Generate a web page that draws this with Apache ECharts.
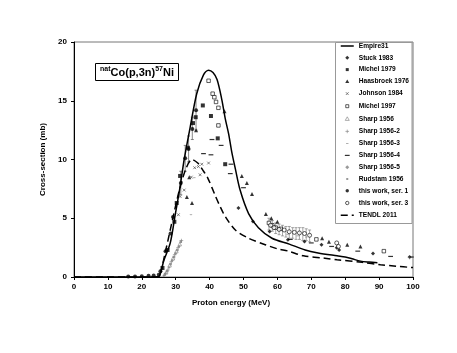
<!DOCTYPE html>
<html>
<head>
<meta charset="utf-8">
<script src="https://cdn.jsdelivr.net/npm/echarts@6/dist/echarts.min.js"></script>
<style>
  html, body { margin: 0; padding: 0; background: #fff; }
  #main { width: 457px; height: 353px; }
</style>
</head>
<body>
<div id="main"></div>
<script>
// axis ticks
var xTicks = [0, 10, 20, 30, 40, 50, 60, 70, 80, 90, 100];
var yTicks = [0, 5, 10, 15, 20];

// model curves (x, y pairs)
var empire31 = [[0,0],[24,0],[25.2,0.1],[26.5,1.4],[28.4,2.9],[29.8,5.2],[31.3,7.7],[32.5,10],[34.3,12.8],[36.2,15.6],[38.2,17.2],[39.7,17.6],[41,17.4],[42.2,16.8],[43.6,15.1],[44.6,13.5],[45.6,12.2],[46.5,10.7],[47.6,9.2],[49,7.4],[51.5,5.4],[54.4,4.2],[58.4,3.3],[63.5,2.8],[68.2,2.3],[72,2.05],[77.6,1.8],[80,1.7],[82,1.55],[84.5,1.35],[87,1.27],[89.5,1.22]];
var tendl2011 = [[0,0],[24,0],[25.2,0.1],[27,2.2],[29,4.8],[31,7.3],[33,9.2],[34.8,10],[36.5,9.7],[38,9.1],[39.5,8.4],[41.7,6.9],[43.1,6.0],[44.6,5.15],[47.6,4.0],[51.5,3.3],[56.4,2.75],[60,2.4],[63.3,2.2],[67.7,1.8],[74,1.6],[77.6,1.47],[85,1.25],[90.4,1.05],[95,0.92],[100,0.8]];

// experimental data
var stuck1983 = [[48.5,5.87],[52.8,4.73],[57.7,3.88],[63.1,3.17],[68,3.03],[73,2.75],[77.5,2.5],[78.2,2.3],[88.2,2.0],[99,1.7]];
var michel1979 = [[26.1,0.77],[27.6,2.3],[29.6,4.7],[30.3,6.3],[31.3,8.6],[33.6,11],[35.1,13.1],[35.9,13.6],[38,14.6],[40.4,13.7],[42.4,11.8],[44.6,9.6]];
var haasbroek1976 = [[33.3,6.8],[34,8.5],[34.8,6.3],[36,12.5],[44.4,14.1],[49.5,8.6],[51,8.0],[52.5,7.06],[56.6,5.36],[58.2,5.0],[60,4.7],[73.2,3.3],[75.2,3.0],[80.6,2.75],[84.5,2.6]];
var johnson1984 = [[30.8,5.3],[31.3,6.85],[32.5,7.4],[34.6,8.5],[35.6,9.3],[36.7,9.4],[37.2,8.7],[37.7,9.6],[39.7,9.7]];
var michel1997 = [[39.7,16.7],[40.9,15.6],[41.4,15.3],[41.9,14.9],[42.6,14.4],[42.6,12.9],[57.5,4.6],[58.5,4.4],[59.5,4.2],[61,4.1],[71.5,3.2],[91.4,2.2]];
var sharp1956 = [[27.2,0.4],[28.2,1.0],[29.2,1.6],[30.2,2.2],[31.2,2.8]];
var sharp1956_2 = [[27.7,0.6],[28.7,1.3],[29.7,1.9],[30.7,2.5],[31.7,3.1],[99,1.65]];
var sharp1956_3 = [[35.5,8.45],[34.5,5.3],[63,3.6],[66,3.5],[68.5,3.4]];
var sharp1956_4 = [[38.2,10.5],[40.4,10.4],[40.7,11.7],[43.4,11.2],[46.3,9.6],[46.1,8.8],[50,7.6],[63.8,3.2],[70,2.9],[76,2.6],[83.7,2.2],[93.4,1.75],[99.5,1.7]];
var sharp1956_5 = [[26.5,0.1],[27,0.3],[28,0.8],[29,1.4],[30,2.0],[31,2.6]];
var rudstam1956 = [[26.8,0.2],[27.5,0.5],[28.5,1.1],[29.5,1.7],[30.5,2.3],[31.5,3.0]];
var thisWork1 = [[16,0.05],[18,0.05],[20,0.07],[22,0.1],[23.5,0.12],[25,0.2],[25.5,0.5],[27,2.2],[28.5,3.7],[29.2,5.1],[31.5,8.0],[32.8,10.1],[33.8,10.9],[34.9,12.6],[36,14.2]];
var thisWork3 = [[58,4.4],[59,4.2],[60.5,4.05],[62,4.0],[63.5,3.85],[65,3.8],[66.5,3.75],[68,3.7],[69.5,3.55],[77.5,2.9],[78,2.6]];
// error bars [x, low, high]
var errRise = [[31.5,7,9],[32.8,9,11.2],[33.8,9.8,12],[34.9,11.7,13.6],[36,12.5,15.9]];
var errGroup = [[57.5,4.0,5.0],[58.5,3.9,4.8],[59.5,3.7,4.6],[60.5,3.6,4.5],[61.5,3.5,4.4],[62.5,3.4,4.3],[63.5,3.3,4.3],[64.5,3.3,4.2],[65.5,3.2,4.2],[66.5,3.2,4.2],[67.5,3.1,4.2],[68.5,3.1,4.1],[69.5,3.0,4.0]];

var FONT = 'Liberation Sans';
var GRAY = '#808080';

// small icons in a 12x8 box for the legend
var box = 'M0,0M12,8';
var icons = {
  diamond: 'path://' + box + 'M6,2L8,4L6,6L4,4Z',
  square: 'path://' + box + 'M4.5,2.5h3v3h-3Z',
  smallsq: 'path://' + box + 'M5,3h2v2h-2Z',
  triangle: 'path://' + box + 'M6,2L8,5.6L4,5.6Z',
  cross: 'path://' + box + 'M4.6,2.6L7.4,5.4M7.4,2.6L4.6,5.4',
  plus: 'path://' + box + 'M6,2.2V5.8M4.2,4H7.8',
  shortdash: 'path://' + box + 'M4.8,3.6h2.4v0.8h-2.4Z',
  dash: 'path://' + box + 'M3.6,3.4h4.8v1.2h-4.8Z',
  circle: 'path://' + box + 'M7.7,4A1.7,1.7 0 1 1 4.3,4A1.7,1.7 0 1 1 7.7,4Z'
};

function scatter(name, data, symbol, size, color, extra) {
  var s = {
    name: name, type: 'scatter', data: data, symbol: symbol, symbolSize: size,
    itemStyle: { color: color }, z: 3
  };
  if (extra) s.itemStyle = extra;
  return s;
}

function errorBars(data, color) {
  return {
    type: 'custom', data: data, z: 2, silent: true,
    encode: { x: 0, y: [1, 2] },
    renderItem: function (params, api) {
      var lo = api.coord([api.value(0), api.value(1)]);
      var hi = api.coord([api.value(0), api.value(2)]);
      var w = 1.5;
      var st = { stroke: color, lineWidth: 0.7 };
      return {
        type: 'group',
        children: [
          { type: 'line', shape: { x1: lo[0], y1: lo[1], x2: hi[0], y2: hi[1] }, style: st },
          { type: 'line', shape: { x1: lo[0] - w, y1: lo[1], x2: lo[0] + w, y2: lo[1] }, style: st },
          { type: 'line', shape: { x1: hi[0] - w, y1: hi[1], x2: hi[0] + w, y2: hi[1] }, style: st }
        ]
      };
    }
  };
}

// white fill keeps the legend item height the same as filled icons
var open = function (c) { return { color: '#fff', borderColor: c, borderWidth: 0.8 }; };

var chart = echarts.init(document.getElementById('main'));
chart.setOption({
  animation: false,
  textStyle: { fontFamily: FONT },
  grid: { left: 74, right: 44, top: 42, bottom: 76, show: true, borderColor: '#777', borderWidth: 1 },
  xAxis: {
    type: 'value', min: xTicks[0], max: xTicks[xTicks.length - 1], interval: 10,
    axisLine: { lineStyle: { color: '#000', width: 1 } },
    axisTick: { show: true, length: 3, lineStyle: { color: '#000' } },
    axisLabel: { color: '#000', fontSize: 8, fontWeight: 'bold', fontFamily: FONT, margin: 6 },
    splitLine: { show: false }
  },
  yAxis: {
    type: 'value', min: yTicks[0], max: yTicks[yTicks.length - 1], interval: 5,
    name: 'Cross-section (mb)', nameLocation: 'middle', nameGap: 24,
    nameTextStyle: { color: '#000', fontSize: 8, fontWeight: 'bold', fontFamily: FONT },
    axisLine: { show: true, lineStyle: { color: '#000', width: 1 } },
    axisTick: { show: true, length: 3, lineStyle: { color: '#000' } },
    axisLabel: { color: '#000', fontSize: 8, fontWeight: 'bold', fontFamily: FONT, margin: 7 },
    splitLine: { show: false }
  },
  legend: {
    orient: 'vertical', left: 340, top: 42, padding: 0, itemWidth: 13, itemHeight: 8, itemGap: 3.8,
    textStyle: { fontSize: 6.6, fontWeight: 'bold', color: '#000', fontFamily: FONT, lineHeight: 8 },
    selectedMode: false, z: 5,
    data: [
      { name: 'Empire31', itemStyle: { opacity: 0 }, lineStyle: { width: 1.5 } },
      { name: 'Stuck 1983', icon: icons.diamond },
      { name: 'Michel 1979', icon: icons.square },
      { name: 'Haasbroek 1976', icon: icons.triangle },
      { name: 'Johnson 1984', icon: icons.cross, itemStyle: open('#444') },
      { name: 'Michel 1997', icon: icons.square, itemStyle: open('#000') },
      { name: 'Sharp 1956', icon: icons.triangle, itemStyle: open(GRAY) },
      { name: 'Sharp 1956-2', icon: icons.plus, itemStyle: open(GRAY) },
      { name: 'Sharp 1956-3', icon: icons.shortdash },
      { name: 'Sharp 1956-4', icon: icons.dash },
      { name: 'Sharp 1956-5', icon: icons.diamond },
      { name: 'Rudstam 1956', icon: icons.smallsq },
      { name: 'this work, ser. 1', icon: icons.circle },
      { name: 'this work, ser. 3', icon: icons.circle, itemStyle: open('#000') },
      { name: 'TENDL 2011', itemStyle: { opacity: 0 }, lineStyle: { width: 1.5 } }
    ]
  },
  graphic: [
    { type: 'rect', z: 4, shape: { x: 335.5, y: 42.5, width: 76.5, height: 181 },
      style: { fill: '#fff', stroke: '#999', lineWidth: 1 } },
    { type: 'rect', z: 4, shape: { x: 95.5, y: 63.5, width: 83, height: 17 },
      style: { fill: '#fff', stroke: '#000', lineWidth: 1 } },
    { type: 'text', z: 5, x: 137, y: 72.5,
      style: {
        text: '{s|nat}{m|Co(p,3n)}{s|57}{m|Ni}', align: 'center', verticalAlign: 'middle',
        rich: {
          s: { fontSize: 7, fontWeight: 'bold', fontFamily: FONT, fill: '#000', verticalAlign: 'top', lineHeight: 13 },
          m: { fontSize: 11, fontWeight: 'bold', fontFamily: FONT, fill: '#000', lineHeight: 13 }
        }
      } },
    { type: 'text', x: 231, y: 303, style: { text: 'Proton energy (MeV)', align: 'center', verticalAlign: 'middle',
      fontSize: 8, fontWeight: 'bold', fontFamily: FONT, fill: '#000' } }
  ],
  series: [
    errorBars(errRise, '#555'),
    errorBars(errGroup, GRAY),
    { name: 'Empire31', type: 'line', data: empire31, symbol: 'none', smooth: 0.3, z: 4,
      lineStyle: { color: '#000', width: 1.5 }, itemStyle: { color: '#000' } },
    { name: 'TENDL 2011', type: 'line', data: tendl2011, symbol: 'none', smooth: 0.3, z: 4,
      lineStyle: { color: '#000', width: 1.5, type: [7, 4] }, itemStyle: { color: '#000' } },
    scatter('Stuck 1983', stuck1983, 'diamond', 4, '#000'),
    scatter('Michel 1979', michel1979, 'rect', 4, '#000'),
    scatter('Haasbroek 1976', haasbroek1976, 'triangle', 4, '#000'),
    scatter('Johnson 1984', johnson1984, icons.cross, [12, 8], null, open('#444')),
    scatter('Michel 1997', michel1997, 'rect', 3.5, null, open('#000')),
    scatter('Sharp 1956', sharp1956, 'triangle', 3.5, null, open(GRAY)),
    scatter('Sharp 1956-2', sharp1956_2, icons.plus, [12, 8], null, open(GRAY)),
    scatter('Sharp 1956-3', sharp1956_3, icons.shortdash, [12, 8], GRAY),
    scatter('Sharp 1956-4', sharp1956_4, icons.dash, [12, 8], '#000'),
    scatter('Sharp 1956-5', sharp1956_5, 'diamond', 3, GRAY),
    scatter('Rudstam 1956', rudstam1956, 'rect', 2.5, GRAY),
    scatter('this work, ser. 1', thisWork1, 'circle', 4, '#000'),
    scatter('this work, ser. 3', thisWork3, 'circle', 4, null, open('#000'))
  ]
});
</script>
</body>
</html>
